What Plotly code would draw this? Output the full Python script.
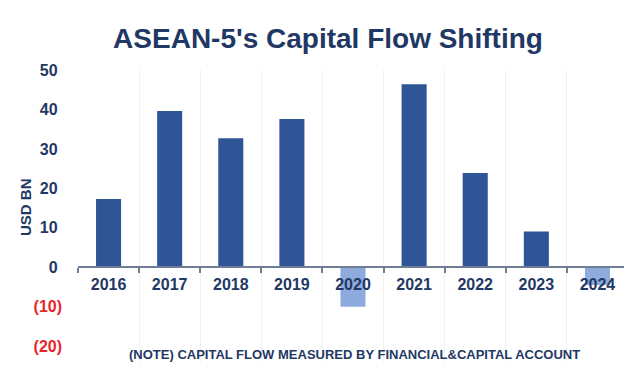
import plotly.graph_objects as go

years = ["2016", "2017", "2018", "2019", "2020", "2021", "2022", "2023", "2024"]
flows = [17.3, 39.6, 32.7, 37.6, -10.0, 46.4, 23.9, 9.1, -4.5]
y_tick_vals = [50, 40, 30, 20, 10, 0, -10, -20]
y_tick_text = ["50\u00a0", "40\u00a0", "30\u00a0", "20\u00a0", "10\u00a0", "0\u00a0",
               "<span style='color:#E8262A'>(10)</span>",
               "<span style='color:#E8262A'>(20)</span>"]

POS = "#2F5597"
NEG = "#8FAADC"
NAVY = "#1F3864"
FONT = "Liberation Sans, Arial, sans-serif"
colors = [POS if v >= 0 else NEG for v in flows]

y_min, y_max = -24, 50
zero_frac = (0 - y_min) / (y_max - y_min)

W, H = 624, 375
L, R, T, B = 70, 4, 62, 21
PW, PH = W - L - R, H - T - B

fig = go.Figure()
fig.add_trace(go.Bar(x=years, y=flows, marker=dict(color=colors, line=dict(width=0)),
                     width=0.41, showlegend=False))

fig.update_layout(
    width=W, height=H,
    margin=dict(l=L, r=R, t=T, b=B),
    paper_bgcolor="white", plot_bgcolor="white",
    font=dict(family=FONT, color=NAVY),
    title=dict(text="<b>ASEAN-5's Capital Flow Shifting</b>", x=320 / W, xanchor="center",
               y=1 - 30 / H, yanchor="middle",
               font=dict(size=28, color=NAVY, family=FONT)),
    xaxis=dict(type="category", anchor="free", position=zero_frac,
               showline=True, linecolor="#6F7E96", linewidth=1.5,
               ticks="outside", ticklen=5, tickcolor="#6F7E96", tickwidth=1.5,
               tickson="boundaries", showgrid=True, gridcolor="#F1F1F1", gridwidth=1,
               tickfont=dict(size=16, color=NAVY, family=FONT),
               ticklabelstandoff=3,
               tickprefix="<b>", ticksuffix="</b>",
               range=[-0.5, 8.5]),
    yaxis=dict(range=[y_min, y_max], tickvals=y_tick_vals,
               ticktext=["<b>" + t + "</b>" for t in y_tick_text],
               showgrid=False, zeroline=False, showline=False, ticks="",
               ticklabelstandoff=15,
               tickfont=dict(size=16, color=NAVY, family=FONT)),
    bargap=0.59,
)

fig.add_annotation(text="<b>USD BN</b>", textangle=-90,
                   xref="paper", yref="paper", x=(17 - L) / PW, y=(H - B - (207 - 8)) / PH,
                   xanchor="center", yanchor="middle", showarrow=False,
                   font=dict(size=15, color=NAVY, family=FONT))

fig.add_annotation(text="<b>(NOTE) CAPITAL FLOW MEASURED BY FINANCIAL&CAPITAL ACCOUNT</b>",
                   xref="paper", yref="paper", x=(346 - L) / PW, y=(H - B - 346) / PH,
                   xanchor="center", yanchor="middle", showarrow=False,
                   font=dict(size=13, color=NAVY, family=FONT))

fig.write_html("out.html")
